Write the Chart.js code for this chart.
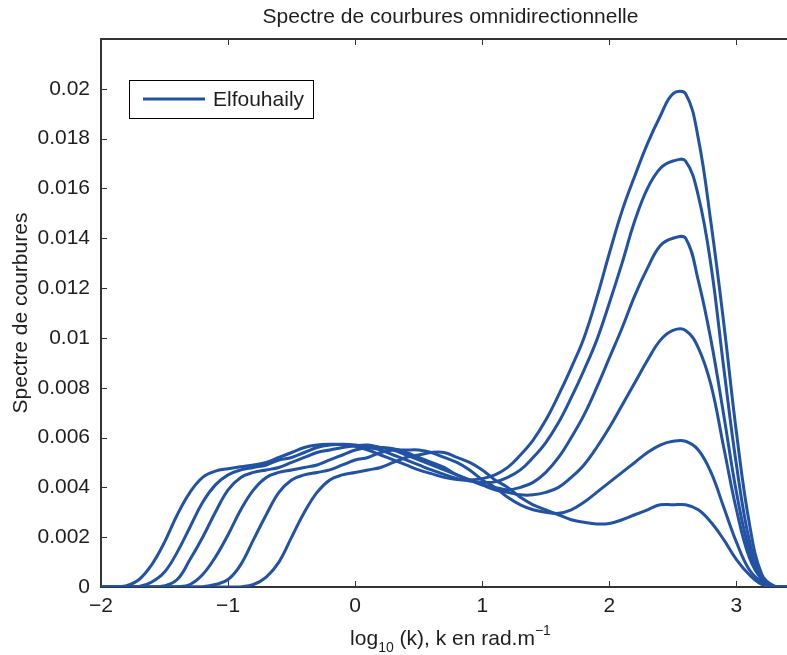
<!DOCTYPE html>
<html>
<head>
<meta charset="utf-8">
<script src="https://cdn.jsdelivr.net/npm/chart.js@4.4.1/dist/chart.umd.min.js"></script>
<style>
  html, body { margin: 0; padding: 0; background: #fff; overflow: hidden; }
  #wrap { width: 800px; height: 655px; }
</style>
</head>
<body>
<div id="wrap"><canvas id="chart" width="800" height="655"></canvas></div>
<script>
// --- data (log10 k -> curvature spectrum) ---
const logK = [
  -2.0, -1.9, -1.8, -1.7, -1.6, -1.5, -1.4, -1.3, -1.2, -1.1,
  -1.0, -0.9, -0.8, -0.7, -0.6, -0.5, -0.4, -0.3, -0.2, -0.1,
   0.0,  0.1,  0.2,  0.3,  0.4,  0.5,  0.6,  0.7,  0.8,  0.9,
   1.0,  1.1,  1.2,  1.3,  1.4,  1.5,  1.6,  1.7,  1.8,  1.9,
   2.0,  2.1,  2.2,  2.3,  2.4,  2.5,  2.6,  2.7,  2.8,  2.9,
   3.0,  3.1,  3.2,  3.3,  3.4,  3.5
];

const spec15 = [
  0, 0, 0.00005, 0.0003, 0.0009, 0.0018, 0.0029, 0.0038, 0.0044, 0.00465,
  0.00475, 0.00483, 0.0049, 0.0050, 0.0052, 0.0054, 0.0056, 0.0057, 0.00573, 0.00572,
  0.00565, 0.0055, 0.0053, 0.0051, 0.0049, 0.0047, 0.00455, 0.0044, 0.00432, 0.0043,
  0.00435, 0.0045, 0.0048, 0.0053, 0.0059, 0.0067, 0.0077, 0.0088, 0.0100, 0.0116,
  0.0134, 0.0151, 0.0165, 0.0178, 0.0189, 0.0198, 0.0198, 0.0180, 0.0146, 0.0106,
  0.0062, 0.0026, 0.0005, 0.00003, 0, 0
];
const spec13 = [
  0, 0, 0, 0.00002, 0.0002, 0.0006, 0.0014, 0.0024, 0.0034, 0.0041,
  0.0045, 0.0047, 0.0048, 0.0049, 0.0051, 0.0052, 0.0054, 0.0056, 0.0057, 0.00573,
  0.0057, 0.0056, 0.0055, 0.0053, 0.0051, 0.0049, 0.0047, 0.00452, 0.00436, 0.00425,
  0.0042, 0.00422, 0.0044, 0.0047, 0.0052, 0.0058, 0.0066, 0.0076, 0.0087, 0.0099,
  0.0114, 0.0130, 0.0147, 0.0160, 0.0168, 0.0171, 0.0171, 0.0157, 0.0129, 0.0088,
  0.0049, 0.0019, 0.0004, 0.00002, 0, 0
];
const spec11 = [
  0, 0, 0, 0, 0, 0.00005, 0.0003, 0.0011, 0.0020, 0.0030,
  0.0039, 0.0044, 0.0046, 0.0047, 0.0048, 0.0050, 0.0052, 0.0054, 0.0055, 0.0056,
  0.00567, 0.0057, 0.0056, 0.0055, 0.0053, 0.0051, 0.0049, 0.0047, 0.0045, 0.0043,
  0.0041, 0.0040, 0.0039, 0.0040, 0.0042, 0.0046, 0.0052, 0.0060, 0.0069, 0.0080,
  0.0092, 0.0104, 0.0117, 0.0128, 0.0137, 0.0140, 0.0140, 0.0123, 0.0099, 0.0069,
  0.0038, 0.0015, 0.0003, 0.00001, 0, 0
];
const spec9 = [
  0, 0, 0, 0, 0, 0, 0.00001, 0.0001, 0.0005, 0.0012,
  0.0021, 0.0031, 0.0039, 0.0044, 0.0046, 0.0047, 0.0048, 0.0049, 0.0051, 0.0053,
  0.0055, 0.0056, 0.0056, 0.00555, 0.0054, 0.0052, 0.0050, 0.0048, 0.0045, 0.0043,
  0.0041, 0.0039, 0.0038, 0.0037, 0.0037, 0.0038, 0.0040, 0.0044, 0.0049, 0.0056,
  0.0064, 0.0073, 0.0082, 0.0091, 0.0099, 0.0103, 0.0103, 0.0096, 0.0081, 0.0056,
  0.0031, 0.0012, 0.0003, 0.00001, 0, 0
];
const spec7 = [
  0, 0, 0, 0, 0, 0, 0, 0, 0.00001, 0.0001,
  0.0003, 0.0009, 0.0019, 0.0029, 0.0038, 0.0043, 0.0045, 0.0046, 0.0047, 0.0049,
  0.0051, 0.0052, 0.0054, 0.0055, 0.0055, 0.0055, 0.0054, 0.0052, 0.0050, 0.0047,
  0.0043, 0.0040, 0.0036, 0.0033, 0.0031, 0.0030, 0.00296, 0.0031, 0.0034, 0.0038,
  0.0042, 0.0046, 0.0050, 0.0054, 0.0057, 0.00585, 0.00585, 0.0055, 0.0046, 0.0032,
  0.0018, 0.0007, 0.0002, 0, 0, 0
];
const spec5 = [
  0, 0, 0, 0, 0, 0, 0, 0, 0, 0,
  0, 0.00001, 0.0001, 0.0004, 0.0010, 0.0020, 0.0030, 0.0038, 0.0043, 0.0045,
  0.0046, 0.0047, 0.0048, 0.0050, 0.0052, 0.0053, 0.0054, 0.0054, 0.0052, 0.0050,
  0.0047, 0.0043, 0.0040, 0.0036, 0.0033, 0.0031, 0.0029, 0.0027, 0.0026, 0.00253,
  0.00255, 0.0027, 0.0029, 0.0031, 0.0033, 0.0033, 0.0033, 0.0031, 0.0026, 0.0019,
  0.0011, 0.0005, 0.0001, 0, 0, 0
];

const seriesList = [spec15, spec13, spec11, spec9, spec7, spec5];
const seriesLabel = 'Elfouhaily';

const xTicks = [-2, -1, 0, 1, 2, 3];
const yTicks = [0, 0.002, 0.004, 0.006, 0.008, 0.01, 0.012, 0.014, 0.016, 0.018, 0.02];

const chartTitle = 'Spectre de courbures omnidirectionnelle';
const yTitle = 'Spectre de courbures';

const FONT = "'Liberation Sans', Arial, Helvetica, sans-serif";
const TEXT = '#1e1e1e';
const AXIS = '#333333';
const LINE = '#2152a3';

// frame + inward ticks, matlab style
const framePlugin = {
    id: 'frame',
    beforeDatasetsDraw(chart) {
        const { ctx, chartArea: a, scales: { x, y } } = chart;
        ctx.save();
        ctx.strokeStyle = AXIS;
        ctx.lineWidth = 1;
        ctx.beginPath();
        xTicks.forEach(v => {
            const px = Math.round(x.getPixelForValue(v)) + 0.5;
            ctx.moveTo(px, a.bottom); ctx.lineTo(px, a.bottom - 6);
            ctx.moveTo(px, a.top); ctx.lineTo(px, a.top + 6);
        });
        yTicks.forEach(v => {
            const py = Math.round(y.getPixelForValue(v)) + 0.5;
            ctx.moveTo(a.left, py); ctx.lineTo(a.left + 6, py);
        });
        ctx.stroke();

        ctx.lineWidth = 2;
        ctx.beginPath();
        ctx.moveTo(a.right + 2, a.top);
        ctx.lineTo(a.left, a.top);
        ctx.lineTo(a.left, a.bottom);
        ctx.lineTo(a.right + 2, a.bottom);
        ctx.stroke();
        ctx.restore();
    },
    afterDraw(chart) {
        const { ctx, chartArea: a } = chart;
        const cx = (a.left + a.right) / 2;
        ctx.save();
        ctx.fillStyle = TEXT;

        // title
        ctx.font = '21px ' + FONT;
        ctx.textAlign = 'center';
        ctx.textBaseline = 'alphabetic';
        ctx.fillText(chartTitle, cx, 23);

        // x axis label with sub/superscript
        const parts = [
            { t: 'log', size: 21, dy: 0 },
            { t: '10', size: 14, dy: 7 },
            { t: ' (k), k en rad.m', size: 21, dy: 0 },
            { t: '\u22121', size: 14, dy: -10 }
        ];
        let total = 0;
        parts.forEach(p => { ctx.font = p.size + 'px ' + FONT; p.w = ctx.measureText(p.t).width; total += p.w; });
        let xx = cx - total / 2;
        ctx.textAlign = 'left';
        const base = 645;
        parts.forEach(p => {
            ctx.font = p.size + 'px ' + FONT;
            ctx.fillText(p.t, xx, base + p.dy);
            xx += p.w;
        });

        // legend box
        const ds = chart.data.datasets[0];
        const lx = a.left + 28, ly = a.top + 41, lw = 184, lh = 38;
        ctx.fillStyle = '#fff';
        ctx.fillRect(lx, ly, lw, lh);
        ctx.strokeStyle = '#000';
        ctx.lineWidth = 1;
        ctx.strokeRect(lx + 0.5, ly + 0.5, lw, lh);
        ctx.strokeStyle = ds.borderColor;
        ctx.lineWidth = 3;
        ctx.beginPath();
        ctx.moveTo(lx + 14, ly + 19);
        ctx.lineTo(lx + 76, ly + 19);
        ctx.stroke();
        ctx.fillStyle = TEXT;
        ctx.font = '21px ' + FONT;
        ctx.textBaseline = 'middle';
        ctx.fillText(ds.label, lx + 84, ly + 20);
        ctx.restore();
    }
};

const datasets = seriesList.map(vals => ({
    label: seriesLabel,
    data: logK.map((k, i) => ({ x: k, y: vals[i] })),
    borderColor: LINE,
    borderWidth: 3,
    pointRadius: 0,
    fill: false,
    tension: 0.4,
    borderJoinStyle: 'round',
    borderCapStyle: 'round'
}));

new Chart(document.getElementById('chart').getContext('2d'), {
    type: 'line',
    data: { datasets },
    plugins: [framePlugin],
    options: {
        responsive: false,
        animation: false,
        devicePixelRatio: 1,
        events: [],
        layout: { padding: { top: 39, left: 0, right: 0, bottom: 0 } },
        plugins: {
            legend: { display: false },
            title: { display: false },
            tooltip: { enabled: false }
        },
        scales: {
            x: {
                type: 'linear',
                min: -2, max: 3.5,
                afterBuildTicks: s => { s.ticks = xTicks.map(v => ({ value: v })); },
                afterFit: s => { s.height = 68; },
                grid: { display: false, drawTicks: false },
                border: { display: false },
                ticks: {
                    autoSkip: false, maxRotation: 0, padding: 7,
                    color: TEXT, font: { family: FONT, size: 21 },
                    callback: v => String(v).replace('-', '\u2212')
                }
            },
            y: {
                min: 0, max: 0.022,
                afterBuildTicks: s => { s.ticks = yTicks.map(v => ({ value: v })); },
                afterFit: s => { s.width = 101; },
                grid: { display: false, drawTicks: false },
                border: { display: false },
                ticks: {
                    autoSkip: false, padding: 11,
                    color: TEXT, font: { family: FONT, size: 21 },
                    callback: v => String(+Number(v).toFixed(3))
                },
                title: {
                    display: true, text: yTitle, color: TEXT,
                    font: { family: FONT, size: 21 },
                    padding: { top: 9, bottom: 0 }
                }
            }
        }
    }
});
</script>
</body>
</html>
